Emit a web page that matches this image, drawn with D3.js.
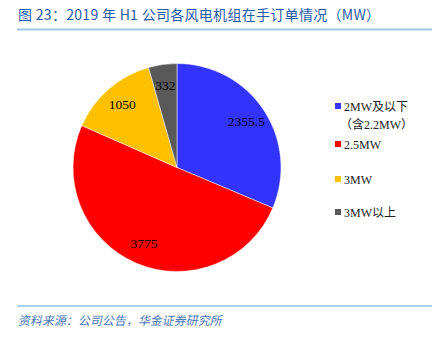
<!DOCTYPE html>
<html><head><meta charset="utf-8">
<script src="https://cdn.jsdelivr.net/npm/d3@7"></script>
<style>body{margin:0;background:#fff;}svg{display:block;}</style>
</head><body>
<svg id="c" width="442" height="341"></svg>
<script>
const categories = ["2MW及以下（含2.2MW）", "2.5MW", "3MW", "3MW以上"];
const legendLines = [["2MW及以下", "（含2.2MW）"], ["2.5MW"], ["3MW"], ["3MW以上"]];
const values = [2355.5, 3775, 1050, 332];
const valueLabels = ["2355.5", "3775", "1050", "332"];
const colors = ["#3333FF", "#FF0000", "#FFC000", "#595959"];
const title = "图 23：2019 年 H1 公司各风电机组在手订单情况（MW）";
const source = "资料来源：公司公告，华金证券研究所";

const svg = d3.select("#c");
svg.append("text").attr("x", 18).attr("y", 20)
  .attr("font-family", "'Noto Sans CJK SC', 'Noto Sans', sans-serif")
  .attr("font-size", 14).attr("letter-spacing", 0.3).attr("fill", "#1F5AA6").text(title);
svg.append("line").attr("x1", 17).attr("x2", 432).attr("y1", 29.5).attr("y2", 29.5)
  .attr("stroke", "#9CCBE6").attr("stroke-width", 2);
svg.append("line").attr("x1", 17).attr("x2", 432).attr("y1", 306).attr("y2", 306)
  .attr("stroke", "#5AA8E0").attr("stroke-width", 1.2);
svg.append("text")
  .attr("font-family", "'Noto Sans CJK SC', sans-serif")
  .attr("transform", "skewX(-12)")
  .attr("font-size", 12).attr("fill", "#4A78B8").text(source)
  .attr("y", 325)
  .attr("x", 18 + 325 * Math.tan(12 * Math.PI / 180));

const cx = 177, cy = 167.5, r = 104;
const pie = d3.pie().sort(null).value(d => d)(values);
const arc = d3.arc().innerRadius(0).outerRadius(r);
const labelArc = d3.arc().innerRadius(r * 0.8).outerRadius(r * 0.8);
const g = svg.append("g").attr("transform", `translate(${cx},${cy})`);
g.selectAll("path").data(pie).join("path")
  .attr("d", arc).attr("fill", (d, i) => colors[i])
  .attr("stroke", "#fff").attr("stroke-width", 0.5);
g.selectAll("text").data(pie).join("text")
  .attr("transform", d => `translate(${labelArc.centroid(d)})`)
  .attr("text-anchor", "middle").attr("dominant-baseline", "central")
  .attr("font-family", "'Liberation Serif', 'Times New Roman', serif")
  .attr("font-size", 13.5).attr("fill", "#000")
  .text((d, i) => valueLabels[i]);

const legendY = [107, 145, 180, 213];
const lg = svg.append("g");
categories.forEach((c, i) => {
  lg.append("rect").attr("x", 335).attr("y", legendY[i] - 4).attr("width", 6).attr("height", 6)
    .attr("fill", colors[i]);
  legendLines[i].forEach((t, j) => {
    lg.append("text").attr("x", j === 0 ? 344 : 340).attr("y", legendY[i] + j * 18)
      .attr("dominant-baseline", "central")
      .attr("font-family", "'Liberation Serif', 'Noto Sans CJK SC', serif")
      .attr("font-size", 12).attr("fill", "#222").text(t);
  });
});
</script>
</body></html>
